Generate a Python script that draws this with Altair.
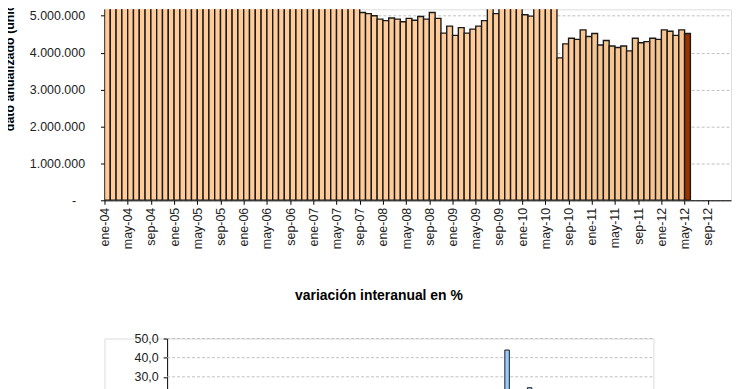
import altair as alt
import pandas as pd

FONT = "Liberation Sans"

MONTH_ABBR = ["ene", "feb", "mar", "abr", "may", "jun", "jul", "ago", "sep", "oct", "nov", "dic"]
N_SLOTS = 108  # ene-04 .. dic-12 on both category axes

# annualized figure (units), ene-04 .. may-12 ; values above ~5.3M are cut off in the picture (estimated)
annualized_units = [
    6050000, 6120000, 6180000, 6090000, 6240000, 6310000, 6270000, 6360000, 6400000, 6330000, 6450000, 6520000,  # 2004
    6480000, 6570000, 6610000, 6550000, 6700000, 6660000, 6740000, 6690000, 6810000, 6770000, 6850000, 6900000,  # 2005
    6880000, 6950000, 7020000, 6970000, 7080000, 7050000, 7120000, 7090000, 7150000, 7110000, 7180000, 7140000,  # 2006
    7050000, 6980000, 6900000, 6720000, 6550000, 6310000, 6020000, 5680000, 5090000, 5060000, 5000000, 4910000,  # 2007
    4870000, 4940000, 4910000, 4840000, 4930000, 4880000, 4980000, 4910000, 5090000, 4930000, 4530000, 4720000,  # 2008
    4470000, 4680000, 4530000, 4640000, 4720000, 4870000, 5230000, 5060000, 5950000, 6300000, 6120000, 5880000,  # 2009
    5030000, 4990000, 5350000, 5620000, 5710000, 5230000, 3860000, 4240000, 4390000, 4360000, 4620000, 4440000,  # 2010
    4520000, 4210000, 4330000, 4180000, 4140000, 4180000, 4050000, 4390000, 4270000, 4300000, 4390000, 4360000,  # 2011
    4620000, 4580000, 4470000, 4620000, 4520000,                                                                  # 2012
]

# year-on-year change (%), ene-04 .. may-12 ; only the two peaks reach the visible part (estimated)
yoy_pct = [
    8.2, 6.5, 9.1, 7.4, 5.8, 6.9, 8.7, 7.1, 6.3, 5.5, 7.8, 6.6,
    5.9, 6.8, 4.7, 6.1, 7.3, 5.2, 4.8, 6.0, 5.4, 4.1, 5.7, 4.9,
    4.4, 3.8, 5.1, 4.6, 3.2, 4.0, 3.5, 2.7, 3.9, 2.4, 3.1, 1.8,
    1.2, 0.5, -1.3, -3.6, -5.9, -8.8, -11.4, -14.2, -16.5, -17.8, -18.9, -20.1,
    -21.4, -19.7, -18.2, -16.9, -15.3, -13.1, -12.5, -11.8, -10.2, -9.6, -8.4, -7.1,
    -6.3, -5.0, -3.9, -2.2, 0.8, 3.5, 6.1, 9.4, 12.7, 15.8, 18.1, 20.6,
    17.2, 18.9, 19.6, 44.0, 15.4, 12.8, 8.3, 10.6, 24.3, 6.9, 4.2, 2.5,
    -3.8, -6.1, -9.4, -12.7, -10.3, -13.5, -8.8, -11.2, -14.6, -12.1, -9.7, -7.3,
    -5.2, -2.9, -4.6, -1.8, 1.3,
]

month_labels = [f"{MONTH_ABBR[i % 12]}-{4 + i // 12:02d}" for i in range(N_SLOTS)]
tick_positions = list(range(0, N_SLOTS, 4))  # ene / may / sep
top_ticks = [0, 1000000, 2000000, 3000000, 4000000, 5000000]
bottom_ticks = [-30, -20, -10, 0, 10, 20, 30, 40, 50]

n = len(annualized_units)
kinds = ["base" if i < 81 else ("reciente" if i < n - 1 else "ultimo") for i in range(n)]
top_df = pd.DataFrame({
    "i": list(range(n)),
    "i2": [i + 1 for i in range(n)],
    "value": annualized_units,
    "mes": month_labels[:n],
    "tipo": kinds,
})
bot_df = pd.DataFrame({
    "i": list(range(len(yoy_pct))),
    "i2": [i + 1 for i in range(len(yoy_pct))],
    "value": yoy_pct,
})
grid_df = pd.DataFrame({"g": bottom_ticks})

labels_js = "[" + ",".join(f"'{s}'" for s in month_labels) + "]"

top = alt.Chart(top_df).mark_bar(stroke="#1a1a1a", strokeWidth=1.4, clip=True).encode(
    x=alt.X(
        "i:Q",
        scale=alt.Scale(domain=[0, N_SLOTS], nice=False, zero=False, padding=0),
        axis=alt.Axis(
            values=tick_positions, labelExpr=f"{labels_js}[datum.value]", labelAngle=270,
            title=None, grid=False, tickSize=4, tickColor="#000", domainColor="#000",
            labelFont=FONT, labelFontSize=12.5, labelColor="#222", labelPadding=3,
            labelOverlap=False, labelFlush=False, labelBound=False,
        ),
    ),
    x2="i2:Q",
    y=alt.Y(
        "value:Q",
        scale=alt.Scale(domain=[0, 5175000], nice=False, padding=0),
        axis=alt.Axis(
            values=top_ticks,
            labelExpr="datum.value == 0 ? '-' : replace(format(datum.value, ','), regexp(',', 'g'), '.')",
            labelFont=FONT, labelFontSize=12.5, labelColor="#222",
            labelPadding={"condition": {"test": "datum.value == 0", "value": 25}, "value": 16},
            tickSize=4, tickColor="#000", domainColor="#000",
            grid=True, gridDash=[3, 2], gridColor="#C0C0C0",
            title="dato anualizado (unidades)", titleFont=FONT, titleFontSize=12.5,
            titleFontWeight="bold", titleColor="#000", titleAngle=270, titleAlign="left",
            titleBaseline="alphabetic", titleX=-91, titleY=122,
        ),
    ),
    y2=alt.datum(0),
    color=alt.Color(
        "tipo:N",
        scale=alt.Scale(domain=["base", "reciente", "ultimo"], range=["#FFCC99", "#F7C590", "#993300"]),
        legend=None,
    ),
).properties(width=630, height=192)

y_bottom_scale = alt.Scale(domain=[-30, 50], nice=False, padding=0)
y_bottom_axis = alt.Axis(
    values=bottom_ticks, labelExpr="replace(format(datum.value, '.1f'), '.', ',')",
    offset=-63, grid=False, title=None, tickSize=4, tickColor="#000", domainColor="#000",
    labelFont=FONT, labelFontSize=12.5, labelColor="#222", labelPadding=5,
)

bottom_grid = alt.Chart(grid_df).mark_rule(color="#C0C0C0", strokeDash=[3, 2], strokeWidth=1).encode(
    y=alt.Y("g:Q", scale=y_bottom_scale, axis=y_bottom_axis),
    x=alt.value(63),
    x2=alt.value(552),
)
bottom_bars = alt.Chart(bot_df).mark_bar(fill="#99CCFF", stroke="#1a1a1a", strokeWidth=1).encode(
    x=alt.X("i:Q", scale=alt.Scale(domain=[0, N_SLOTS], range=[63, 552], nice=False, zero=False, padding=0), axis=None),
    x2="i2:Q",
    y=alt.Y("value:Q", scale=y_bottom_scale, axis=y_bottom_axis),
    y2=alt.datum(0),
)
bottom = alt.layer(bottom_grid, bottom_bars).properties(
    width=552, height=154,
    title=alt.TitleParams(
        "variación interanual en %", font=FONT, fontSize=14, fontWeight="bold", color="#000",
        anchor="middle", frame="group", offset=30,
    ),
)

chart = alt.vconcat(top, bottom, spacing=38).properties(
    padding={"left": -5, "top": -40, "right": 0, "bottom": 0},
).configure_view(stroke=None).configure(background="#FFFFFF")

chart.save("out.html", embed_options={"renderer": "svg", "actions": False})
